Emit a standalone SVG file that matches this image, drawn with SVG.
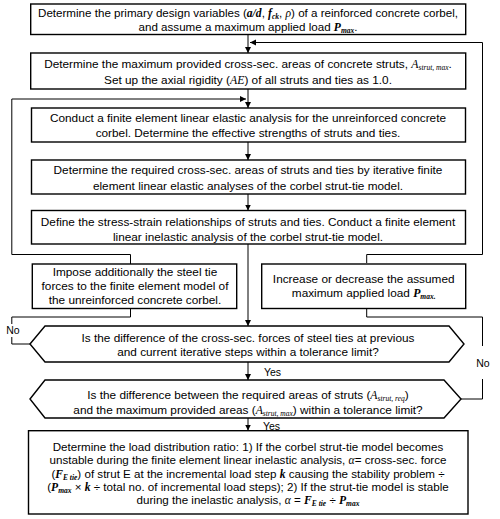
<svg xmlns="http://www.w3.org/2000/svg" width="500" height="519" viewBox="0 0 500 519">
<style>
text{font-family:"Liberation Sans",Arial,sans-serif;font-size:11.8px;fill:#000;text-anchor:middle}
.f{font-size:11.6px}
.v{font-family:"Liberation Serif","Times New Roman",serif;font-style:italic}
.vb{font-family:"Liberation Serif","Times New Roman",serif;font-style:italic;font-weight:bold}
.s{font-size:7.5px;font-family:"Liberation Serif","Times New Roman",serif;font-style:italic}
.sb{font-size:7.5px;font-family:"Liberation Serif","Times New Roman",serif;font-style:italic;font-weight:bold}
.lbl{font-size:10.5px}
.box{fill:#fff;stroke:#000;stroke-width:1.4}
.ln{fill:none;stroke:#000;stroke-width:1}
</style>
<defs>
<marker id="ah" viewBox="0 0 10 10" refX="10" refY="5" markerWidth="6" markerHeight="8" orient="auto" markerUnits="userSpaceOnUse">
<path d="M0,0 L10,5 L0,10 z" fill="#000"/>
</marker>
</defs>
<g id="connectors">
<line class="ln" x1="248" y1="34" x2="248" y2="53" marker-end="url(#ah)"/>
<polyline class="ln" points="366.7,263 366.7,254.5 482.5,254.5 482.5,42.5 250,42.5" marker-end="url(#ah)"/>
<line class="ln" x1="248" y1="89" x2="248" y2="108" marker-end="url(#ah)"/>
<polyline class="ln" points="130.5,264 130.5,254.5 11.8,254.5 11.8,99 246,99" marker-end="url(#ah)"/>
<line class="ln" x1="248" y1="142" x2="248" y2="160" marker-end="url(#ah)"/>
<line class="ln" x1="248" y1="194" x2="248" y2="210.5" marker-end="url(#ah)"/>
<line class="ln" x1="248" y1="244" x2="248" y2="326" marker-end="url(#ah)"/>
<polyline class="ln" points="130.5,308.5 130.5,317 11.8,317 11.8,324"/>
<polyline class="ln" points="11.8,337 11.8,344 30,344"/>
<polyline class="ln" points="366.7,308.5 366.7,317 482.5,317 482.5,346"/>
<polyline class="ln" points="482.5,379 482.5,399 461,399"/>
<line class="ln" x1="248" y1="362" x2="248" y2="380" marker-end="url(#ah)"/>
<line class="ln" x1="248" y1="418" x2="248" y2="430.5" marker-end="url(#ah)"/>
<text class="lbl" x="13" y="334">No</text>
<text class="lbl" x="483" y="366.5">No</text>
<text class="lbl" x="272.5" y="375.5">Yes</text>
<text class="lbl" x="271.5" y="429.5">Yes</text>
</g>
<g id="n1">
<rect class="box" x="30.7" y="4" width="435" height="30.5"/>
<text class="f" x="248" y="17">Determine the primary design variables (<tspan class="vb">a/d</tspan>, <tspan class="vb">f</tspan><tspan class="sb" dy="2">ck</tspan><tspan dy="-2">, </tspan><tspan class="v">ρ</tspan>) of a reinforced concrete corbel,</text>
<text class="f" x="248" y="30.5">and assume a maximum applied load <tspan class="vb">P</tspan><tspan class="sb" dy="2">max</tspan><tspan dy="-2">.</tspan></text>
</g>
<g id="n2">
<rect class="box" x="30.7" y="53" width="435" height="36"/>
<text x="248" y="67.5">Determine the maximum provided cross-sec. areas of concrete struts, <tspan class="v">A</tspan><tspan class="s" dy="2">strut, max</tspan><tspan dy="-2">.</tspan></text>
<text x="248" y="83.5">Set up the axial rigidity (<tspan class="v">AE</tspan>) of all struts and ties as 1.0.</text>
</g>
<g id="n3">
<rect class="box" x="31.5" y="108" width="434" height="34"/>
<text x="248" y="121.5">Conduct a finite element linear elastic analysis for the unreinforced concrete</text>
<text x="248" y="136.5">corbel. Determine the effective strengths of struts and ties.</text>
</g>
<g id="n4">
<rect class="box" x="31.5" y="160" width="434" height="34"/>
<text x="248" y="174">Determine the required cross-sec. areas of struts and ties by iterative finite</text>
<text x="248" y="190">element linear elastic analyses of the corbel strut-tie model.</text>
</g>
<g id="n5">
<rect class="box" x="31.5" y="210.5" width="434" height="33.5"/>
<text x="248" y="225.5">Define the stress-strain relationships of struts and ties. Conduct a finite element</text>
<text x="248" y="240.5">linear inelastic analysis of the corbel strut-tie model.</text>
</g>
<g id="n6">
<rect class="box" x="32.3" y="264" width="204.4" height="44.5"/>
<text x="135" y="276">Impose additionally the steel tie</text>
<text x="135" y="290">forces to the finite element model of</text>
<text x="135" y="304.3">the unreinforced concrete corbel.</text>
</g>
<g id="n7">
<rect class="box" x="261.7" y="264" width="204" height="44.5"/>
<text x="363.7" y="282.5">Increase or decrease the assumed</text>
<text x="363.7" y="297">maximum applied load <tspan class="vb">P</tspan><tspan class="sb" dy="2">max.</tspan></text>
</g>
<g id="d1">
<polygon class="box" points="30,344 45,326 449,326 464,344 449,362 45,362"/>
<text x="248" y="341.7">Is the difference of the cross-sec. forces of steel ties at previous</text>
<text x="248" y="356">and current iterative steps within a tolerance limit?</text>
</g>
<g id="d2">
<polygon class="box" points="30,399 45,380 444,380 461,399 444,418 45,418"/>
<text x="248" y="399.3">Is the difference between the required areas of struts (<tspan class="v">A</tspan><tspan class="s" dy="2">strut, req</tspan><tspan dy="-2">)</tspan></text>
<text x="248" y="414.3">and the maximum provided areas (<tspan class="v">A</tspan><tspan class="s" dy="2">strut, max</tspan><tspan dy="-2">) within a tolerance limit?</tspan></text>
</g>
<g id="n8">
<rect class="box" x="28.5" y="430.7" width="439.5" height="83.3"/>
<text class="f" x="248" y="451">Determine the load distribution ratio: 1) If the corbel strut-tie model becomes</text>
<text class="f" x="248" y="464.3">unstable during the finite element linear inelastic analysis, <tspan class="v">α</tspan>= cross-sec. force</text>
<text class="f" x="248" y="477.6">(<tspan class="vb">F</tspan><tspan class="sb" dy="2">E tie</tspan><tspan dy="-2">) of strut E at the incremental load step </tspan><tspan class="vb">k</tspan> causing the stability problem ÷</text>
<text class="f" x="248" y="491">(<tspan class="vb">P</tspan><tspan class="sb" dy="2">max</tspan><tspan dy="-2"> × </tspan><tspan class="vb">k</tspan> ÷ total no. of incremental load steps); 2) If the strut-tie model is stable</text>
<text class="f" x="248" y="504.3">during the inelastic analysis, <tspan class="v">α</tspan> = <tspan class="vb">F</tspan><tspan class="sb" dy="2">E tie</tspan><tspan dy="-2"> ÷ </tspan><tspan class="vb">P</tspan><tspan class="sb" dy="2">max</tspan></text>
</g>
</svg>
